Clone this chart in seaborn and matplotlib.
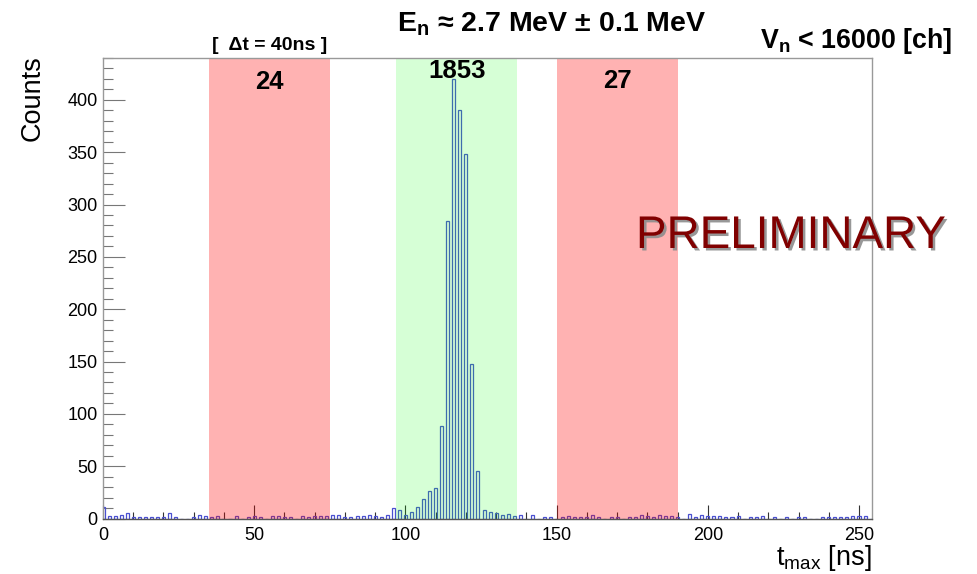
import numpy as np
import pandas as pd
import matplotlib
matplotlib.use("Agg")
import matplotlib.pyplot as plt
import matplotlib.patheffects as pe
from matplotlib.ticker import MultipleLocator
import seaborn as sns

# Pulse time of maximum, sampled every 2 ns, and counts per sample bin
t_max_ns = list(range(0, 256, 2))
counts = [
    11, 2, 2, 3, 5, 1, 1, 1, 1, 1, 1, 5, 1, 0, 0, 1, 3, 2,          # 0 - 34
    1, 2, 0, 0, 2, 0, 1, 2, 1, 0, 2, 2, 1, 1, 0, 2, 1, 2, 2, 2,     # 36 - 74
    3, 3, 1, 1, 2, 2, 3, 2, 1, 3, 10,                               # 76 - 96
    8, 3, 6, 11, 19, 26, 29, 88, 284, 420, 390, 348, 148, 45,       # 98 - 124
    8, 6, 5, 3, 4, 2,                                               # 126 - 136
    3, 0, 3, 0, 1, 1,                                               # 138 - 148
    0, 1, 2, 1, 1, 1, 3, 1, 0, 1, 1, 0, 1, 1, 3, 2, 1, 3, 2, 2,     # 150 - 188
    1, 0, 4, 1, 3,                                                  # 190 - 198
    2, 2, 2, 1, 1, 2, 0, 1, 1, 2, 0, 1, 0, 1, 0, 1, 1, 0, 0, 1,     # 200 - 238
    1, 1, 1, 1, 2, 2, 2, 0,                                         # 240 - 254
]

# Time windows (ns): side bands and signal window
window_lo = [35, 97, 150]
window_hi = [75, 137, 190]
window_colors = ["#ff0000", "#00ff00", "#ff0000"]
window_alpha = [0.30, 0.16, 0.30]

df = pd.DataFrame({"t": t_max_ns, "n": counts})

sns.set_style("white")
plt.rcParams["font.family"] = ["Liberation Sans", "DejaVu Sans"]
plt.rcParams["text.color"] = "black"
plt.rcParams["mathtext.fontset"] = "custom"
plt.rcParams["mathtext.rm"] = "Liberation Sans"
plt.rcParams["mathtext.it"] = "Liberation Sans:italic"
plt.rcParams["mathtext.bf"] = "Liberation Sans:bold"

W, H = 978, 574
fig = plt.figure(figsize=(W / 100, H / 100), dpi=100)
fig.patch.set_facecolor("white")
ax_left, ax_right, ax_top, ax_bottom = 103, 872, 58, 518.5
ax = fig.add_axes([ax_left / W, 1 - ax_bottom / H,
                   (ax_right - ax_left) / W, (ax_bottom - ax_top) / H])

sns.histplot(data=df, x="t", weights="n", binwidth=2, binrange=(-1, 255),
             shrink=0.5, fill=False, element="bars", color="#4a50d0",
             linewidth=0.9, ax=ax, zorder=2)

# Shaded windows with their integrated counts
for lo, hi, c, a in zip(window_lo, window_hi, window_colors, window_alpha):
    ax.axvspan(lo, hi, color=c, alpha=a, lw=0, zorder=3)

label_y = [0.9327, 0.9566, 0.9340]
for lo, hi, yy in zip(window_lo, window_hi, label_y):
    total = int(df.loc[(df.t >= lo) & (df.t < hi), "n"].sum())
    ax.text((lo + hi) / 2, yy, f"{total}", transform=ax.get_xaxis_transform(),
            ha="center", va="baseline", fontsize=18.5, fontweight="bold",
            color="black", zorder=5)

ax.set_xlim(0, 254.3)
ax.set_ylim(0, 440)
ax.xaxis.set_major_locator(MultipleLocator(50))
ax.xaxis.set_minor_locator(MultipleLocator(10))
ax.yaxis.set_major_locator(MultipleLocator(50))
ax.yaxis.set_minor_locator(MultipleLocator(10))
ax.tick_params(which="both", bottom=True, left=True, top=False, right=False)
ax.tick_params(axis="x", which="major", direction="in", length=10, width=0.8,
               color="#333333", labelsize=13, pad=6, labelcolor="black")
ax.tick_params(axis="x", which="minor", direction="in", length=4.8, width=0.8,
               color="#333333")
ax.tick_params(axis="y", which="major", direction="in", length=15.8, width=0.8,
               color="#777777", labelsize=13, pad=4, labelcolor="black")
ax.tick_params(axis="y", which="minor", direction="in", length=7.5, width=0.8,
               color="#777777")
ax.set_xlabel("")
ax.set_ylabel("")
for side, col in [("top", "#999999"), ("right", "#999999"),
                  ("left", "#999999"), ("bottom", "#555555")]:
    ax.spines[side].set_color(col)
    ax.spines[side].set_linewidth(1.0)
    ax.spines[side].set_zorder(4)

def fx(x):
    return x / W

def fy(y):
    return 1 - y / H

fig.text(fx(552), fy(31), r"E$_\mathbf{n}$ ≈ 2.7 MeV ± 0.1 MeV", ha="center",
         va="baseline", fontsize=20.5, fontweight="bold")
fig.text(fx(270), fy(50), "[  Δt = 40ns ]", ha="center", va="baseline",
         fontsize=14, fontweight="bold")
fig.text(fx(952), fy(48), r"V$_\mathbf{n}$ < 16000 [ch]", ha="right",
         va="baseline", fontsize=19.3, fontweight="bold")
fig.text(fx(33), fy(55), "Counts", rotation=90, ha="center", va="top",
         fontsize=19.5)
fig.text(fx(872), fy(565), r"t$_\mathrm{max}$ [ns]", ha="right", va="baseline",
         fontsize=19.5)
fig.text(fx(636), fy(248), "PRELIMINARY", ha="left", va="baseline",
         fontsize=33, color="#800000",
         path_effects=[pe.withSimplePatchShadow(offset=(1.8, -1.8),
                                                shadow_rgbFace="#8c8c8c",
                                                alpha=0.9)])

fig.savefig("out.png", dpi=100)
